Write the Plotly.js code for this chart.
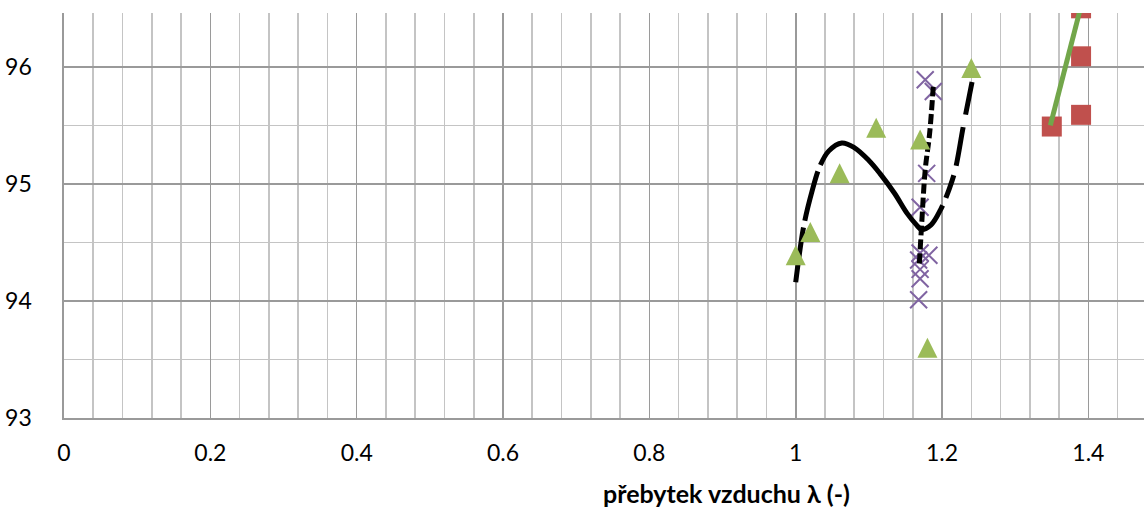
<!DOCTYPE html>
<html><head><meta charset="utf-8">
<script src="https://cdn.plot.ly/plotly-3.0.1.min.js"></script>
<style>html,body{margin:0;padding:0;background:#fff}#chart{width:1144px;height:518px}</style>
</head><body><div id="chart"></div>
<script>
// green triangles
const triX = [1.00, 1.02, 1.06, 1.11, 1.17, 1.18, 1.24];
const triY = [94.39, 94.59, 95.09, 95.48, 95.38, 93.60, 95.99];
// purple crosses
const crossX = [1.177, 1.188, 1.179, 1.170, 1.170, 1.182, 1.168, 1.170, 1.170, 1.168];
const crossY = [95.89, 95.79, 95.09, 94.80, 94.41, 94.39, 94.35, 94.27, 94.19, 94.01];
// red squares
const sqX = [1.35, 1.39, 1.39, 1.39];
const sqY = [95.49, 96.09, 95.59, 96.50];
// trend curve through triangles
const curveX = [1.000, 1.011, 1.022, 1.033, 1.045, 1.063, 1.080, 1.100, 1.115, 1.135, 1.152, 1.165, 1.172, 1.185, 1.198, 1.210, 1.218, 1.229, 1.241];
const curveY = [94.16, 94.64, 94.93, 95.15, 95.28, 95.35, 95.31, 95.20, 95.09, 94.92, 94.75, 94.65, 94.61, 94.65, 94.78, 94.96, 95.12, 95.49, 95.87];
// trend through crosses
const crossTrendX = [1.169, 1.172, 1.177, 1.183, 1.188];
const crossTrendY = [94.32, 94.64, 95.12, 95.43, 95.83];
// trend through squares
const sqTrendX = [1.348, 1.390];
const sqTrendY = [95.50, 96.52];
const xTicks = [0, 0.2, 0.4, 0.6, 0.8, 1, 1.2, 1.4];
const xTickText = ['0', '0.2', '0.4', '0.6', '0.8', '1', '1.2', '1.4'];
const yTicks = [93, 94, 95, 96];
const xTitle = 'přebytek vzduchu λ (-)';
const yTitle = 'účinnost kotle (%)';

const font = 'Lato, "Open Sans", sans-serif';
const yRange = [93, 96.46];
const plotH = 518 - 13 - 100;
// arrow-up marker has its tip at the point; a twin axis shifted by half the
// marker height (10 px) centres the triangle on its value
const half = 10 * (yRange[1] - yRange[0]) / plotH;

const data = [
  {x: triX, y: triY, yaxis: 'y2', mode: 'markers', marker: {symbol: 'arrow-up', size: 20, color: '#9bbb59', line: {width: 0}}},
  {x: crossX, y: crossY, mode: 'markers', marker: {symbol: 'x-thin-open', size: 17, color: '#8064a2', line: {width: 2, color: '#8064a2'}}},
  {x: sqX, y: sqY, mode: 'markers', marker: {symbol: 'square', size: 20, color: '#c0504d'}},
  {x: curveX, y: curveY, mode: 'lines', line: {color: '#000', width: 5, dash: '55px,7px,51px,7px,186px,8px,24px,10px,39px,13px,80px', shape: 'spline'}},
  {x: crossTrendX, y: crossTrendY, mode: 'lines', line: {color: '#000', width: 5, dash: '10px,4px', shape: 'spline'}},
  {x: sqTrendX, y: sqTrendY, mode: 'lines', line: {color: '#72a64a', width: 5}}
];

const layout = {
  width: 1144, height: 518,
  margin: {l: 64, r: 0, t: 13, b: 100},
  paper_bgcolor: '#fff', plot_bgcolor: '#fff',
  showlegend: false,
  xaxis: {
    range: [0, 1.476], tickvals: xTicks, ticktext: xTickText,
    showgrid: true, gridcolor: '#9a9a9a', gridwidth: 1.6,
    minor: {dtick: 0.04, showgrid: true, gridcolor: '#c4c4c4', gridwidth: 1.6},
    showline: true, linecolor: '#9a9a9a', linewidth: 1.6,
    zeroline: false, ticks: '', ticklabelstandoff: 14,
    tickfont: {family: font, size: 23, color: '#000'}
  },
  yaxis: {
    range: yRange, tickvals: yTicks,
    showgrid: true, gridcolor: '#9a9a9a', gridwidth: 1.6,
    minor: {dtick: 0.5, showgrid: true, gridcolor: '#c4c4c4', gridwidth: 1.6},
    showline: true, linecolor: '#9a9a9a', linewidth: 1.6,
    zeroline: false, ticks: '', ticklabelstandoff: 26,
    tickfont: {family: font, size: 23, color: '#000'}
  },
  yaxis2: {
    overlaying: 'y', range: [yRange[0] - half, yRange[1] - half],
    visible: false, showgrid: false, zeroline: false
  },
  annotations: [
    {text: '<b>' + xTitle + '</b>', xref: 'x', x: 0.905, yref: 'paper', y: 0, yshift: -75, xanchor: 'center', yanchor: 'middle', showarrow: false,
     font: {family: font, size: 25, color: '#000'}},
    {text: '<b>' + yTitle + '</b>', xref: 'paper', x: 0, xshift: -83, yref: 'paper', y: 0.745, textangle: -90, xanchor: 'center', yanchor: 'middle', showarrow: false,
     font: {family: font, size: 22, color: '#000'}}
  ]
};
Plotly.newPlot('chart', data, layout, {staticPlot: true});
</script></body></html>
